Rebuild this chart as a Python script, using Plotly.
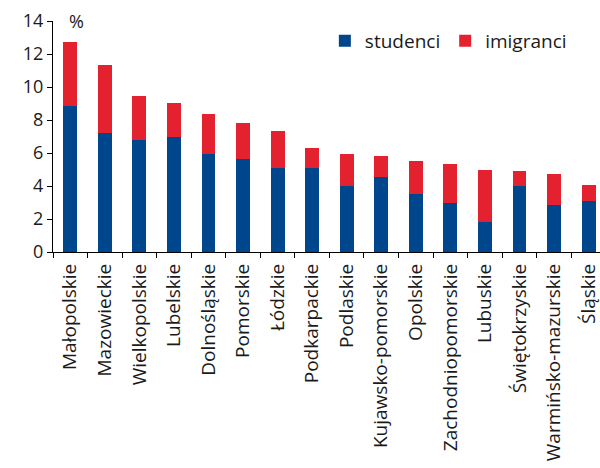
import plotly.graph_objects as go

# Voivodeships, sorted by total share
regions = [
    "Małopolskie", "Mazowieckie", "Wielkopolskie", "Lubelskie", "Dolnośląskie",
    "Pomorskie", "Łódzkie", "Podkarpackie", "Podlaskie", "Kujawsko-pomorskie",
    "Opolskie", "Zachodniopomorskie", "Lubuskie", "Świętokrzyskie",
    "Warmińsko-mazurskie", "Śląskie",
]
studenci = [8.83, 7.24, 6.81, 6.97, 5.94, 5.64, 5.09, 5.09, 4.00, 4.55,
            3.54, 2.95, 1.82, 3.98, 2.83, 3.09]
imigranci = [3.90, 4.09, 2.67, 2.06, 2.42, 2.16, 2.23, 1.19, 1.94, 1.29,
             2.00, 2.38, 3.17, 0.95, 1.88, 0.99]
y_ticks = [0, 2, 4, 6, 8, 10, 12, 14]

BLUE = "#00468C"
RED = "#E3212F"
FONT = "Open Sans"

fig = go.Figure()
fig.add_trace(go.Bar(x=regions, y=studenci, name="studenci",
                     marker=dict(color=BLUE, line=dict(width=0)), width=0.4))
fig.add_trace(go.Bar(x=regions, y=imigranci, name="imigranci",
                     marker=dict(color=RED, line=dict(width=0)), width=0.4))

fig.update_layout(
    barmode="stack",
    width=600, height=468,
    margin=dict(l=53, r=0, t=21, b=216, pad=0, autoexpand=False),
    paper_bgcolor="white", plot_bgcolor="white",
    font=dict(family=FONT, size=18, color="#1a1a1a"),
    showlegend=True,
    legend=dict(orientation="h", x=0.497, xanchor="left", y=0.914, yanchor="middle",
                font=dict(size=19), bgcolor="rgba(0,0,0,0)", traceorder="normal",
                itemclick=False),
    xaxis=dict(
        range=[-0.5, 15.33], tickangle=-90, showline=True, linecolor="black",
        linewidth=1.3, ticks="outside", tickson="boundaries", ticklen=5,
        tickcolor="black", tickwidth=1.3, showgrid=False, automargin=False,
        tickfont=dict(size=19), ticklabelstandoff=3,
    ),
    yaxis=dict(
        range=[0, 14], tickvals=y_ticks, showline=True, linecolor="black",
        linewidth=1.3, ticks="outside", ticklen=5, tickcolor="black",
        tickwidth=1.3, showgrid=False, zeroline=False, automargin=False,
        tickfont=dict(size=18),
    ),
    annotations=[dict(text="%", xref="paper", yref="paper", x=0.043, y=1.0,
                      xanchor="center", yanchor="middle", showarrow=False,
                      font=dict(size=18))],
)

fig.write_html("out.html")
